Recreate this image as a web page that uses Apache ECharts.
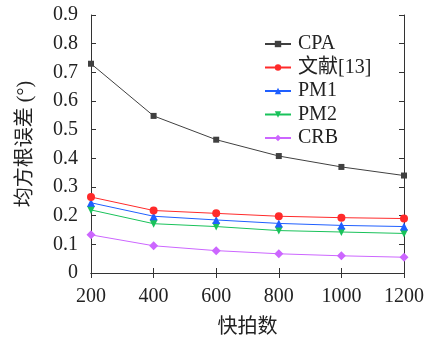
<!DOCTYPE html>
<html>
<head>
<meta charset="utf-8">
<script src="https://cdn.jsdelivr.net/npm/echarts@6/dist/echarts.min.js"></script>
<style>
  html, body { margin: 0; padding: 0; background: #fff; }
  #chart { width: 426px; height: 340px; }
</style>
</head>
<body>
<div id="chart"></div>
<script>
// snapshot counts
const snapshots = [200, 400, 600, 800, 1000, 1200];

const seriesNames = ["CPA", "文献[13]", "PM1", "PM2", "CRB"];
const cpa   = [0.730, 0.548, 0.465, 0.408, 0.370, 0.340];
const ref13 = [0.265, 0.218, 0.208, 0.198, 0.193, 0.190];
const pm1   = [0.245, 0.198, 0.185, 0.173, 0.166, 0.162];
const pm2   = [0.220, 0.172, 0.162, 0.148, 0.143, 0.138];
const crb   = [0.133, 0.095, 0.078, 0.067, 0.060, 0.055];

const colors  = ["#404040", "#ff2a2a", "#1f5fff", "#19c25a", "#cc66ff"];
const symbols = ["rect", "circle", "triangle", "path://M0,0 L10,0 L5,9 Z", "diamond"];
const sizes   = [6, 8, 8, 8, 9];
const values  = [cpa, ref13, pm1, pm2, crb];

const font = "'Liberation Serif', 'Noto Sans CJK SC', serif";
const chart = echarts.init(document.getElementById("chart"));

const frameAxis = {
  axisLine: { show: true, lineStyle: { color: "#333", width: 1 } },
  axisTick: { show: true, inside: true, length: 5, lineStyle: { color: "#333" } },
  splitLine: { show: false }
};

chart.setOption({
  animation: false,
  textStyle: { fontFamily: font },
  grid: { left: 91, right: 22, top: 15, bottom: 67, outerBoundsMode: "none", containLabel: false },
  xAxis: [
    Object.assign({
      type: "value", min: 200, max: 1200, interval: 200,
      name: "快拍数", nameLocation: "middle", nameGap: 45,
      nameTextStyle: { fontFamily: font, fontSize: 20, color: "#222" },
      axisLabel: { color: "#222", fontSize: 20, margin: 14, fontFamily: font,
        formatter: v => String(v) }
    }, frameAxis),
    Object.assign({
      type: "value", min: 200, max: 1200, interval: 200, position: "top",
      axisLabel: { show: false }
    }, frameAxis)
  ],
  yAxis: [
    Object.assign({
      type: "value", min: 0, max: 0.9, interval: 0.1,
      name: "均方根误差 (°)", nameLocation: "middle", nameGap: 55, nameRotate: 90,
      nameTextStyle: { fontFamily: font, fontSize: 20, color: "#222" },
      axisLabel: { color: "#222", fontSize: 20, margin: 13, fontFamily: font,
        formatter: v => (v === 0 ? "0" : v.toFixed(1)) }
    }, frameAxis),
    Object.assign({
      type: "value", min: 0, max: 0.9, interval: 0.1, position: "right",
      axisLabel: { show: false }
    }, frameAxis)
  ],
  legend: {
    orient: "vertical", left: 259, top: 29,
    itemWidth: 26, itemHeight: 8, itemGap: 3.5,
    textStyle: { fontFamily: font, fontSize: 20, lineHeight: 20, color: "#222", padding: [0, 0, 0, 2] },
    data: seriesNames
  },
  series: seriesNames.map((name, i) => ({
    name: name,
    type: "line",
    data: snapshots.map((x, j) => [x, values[i][j]]),
    symbol: symbols[i],
    symbolSize: sizes[i],
    lineStyle: { color: colors[i], width: 1 },
    itemStyle: { color: colors[i] },
    z: 10 - i
  }))
});
</script>
</body>
</html>
